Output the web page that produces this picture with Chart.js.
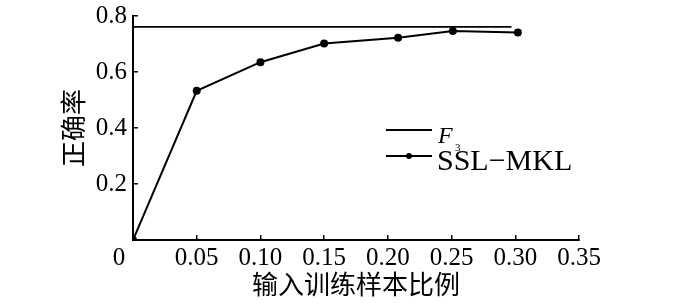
<!DOCTYPE html>
<html>
<head>
<meta charset="utf-8">
<script src="https://cdn.jsdelivr.net/npm/chart.js@4.4.0/dist/chart.umd.min.js"></script>
<style>
  body { margin: 0; background: #fff; }
</style>
</head>
<body>
<canvas id="myChart" width="700" height="303"></canvas>
<script>
// data
const sampleRatio = [0, 0.05, 0.10, 0.15, 0.208, 0.251, 0.302];
const sslMkl = [0, 0.533, 0.635, 0.702, 0.722, 0.746, 0.741];
const f3Ratio = [0, 0.297];
const f3Acc = [0.761, 0.761];
const yTicks = [0.2, 0.4, 0.6, 0.8];
const xTitle = '输入训练样本比例';
const yTitle = '正确率';

const serif = "'Liberation Serif', 'Noto Sans CJK SC', serif";
Chart.defaults.color = '#000';
Chart.defaults.font.family = serif;

// legend drawn inside the plot, line + dot style
const innerLegend = {
  id: 'innerLegend',
  afterDatasetsDraw(chart) {
    const ctx = chart.ctx;
    ctx.save();
    ctx.strokeStyle = '#000';
    ctx.fillStyle = '#000';
    ctx.lineWidth = 2;
    // F3
    ctx.beginPath();
    ctx.moveTo(386, 130); ctx.lineTo(432, 130);
    ctx.stroke();
    ctx.textBaseline = 'alphabetic';
    ctx.font = "italic 24px " + serif;
    ctx.fillText('F', 438, 143);
    ctx.font = "11px " + serif;
    ctx.fillText('3', 455, 151);
    // SSL-MKL
    ctx.beginPath();
    ctx.moveTo(386, 156); ctx.lineTo(432, 156);
    ctx.stroke();
    ctx.beginPath();
    ctx.arc(409, 156, 3, 0, Math.PI * 2);
    ctx.fill();
    ctx.font = "30px " + serif;
    ctx.fillText(chart.data.datasets[1].label, 437, 170);
    // shared origin label
    const xs = chart.scales.x, ys = chart.scales.y;
    ctx.font = "25px " + serif;
    ctx.textAlign = 'center';
    ctx.textBaseline = 'middle';
    ctx.fillText('0', xs.getPixelForValue(0) - 14, ys.getPixelForValue(0) + 18);
    ctx.restore();
  }
};

const ctx = document.getElementById('myChart').getContext('2d');
const myChart = new Chart(ctx, {
  type: 'line',
  data: {
    datasets: [{
      label: 'F3',
      data: f3Ratio.map((x, i) => ({ x: x, y: f3Acc[i] })),
      borderColor: '#000',
      borderWidth: 1.6,
      pointRadius: 0,
      fill: false
    }, {
      label: 'SSL−MKL',
      data: sampleRatio.map((x, i) => ({ x: x, y: sslMkl[i] })),
      borderColor: '#000',
      backgroundColor: '#000',
      borderWidth: 2,
      pointRadius: 3,
      pointBackgroundColor: '#000',
      tension: 0,
      fill: false
    }]
  },
  options: {
    responsive: false,
    animation: false,
    layout: { padding: { left: 0, right: 121, top: 16, bottom: 0 } },
    plugins: {
      legend: { display: false },
      tooltip: { enabled: false }
    },
    scales: {
      x: {
        type: 'linear',
        min: 0,
        max: 0.35,
        ticks: {
          stepSize: 0.05,
          font: { size: 25 },
          padding: 8,
          maxRotation: 0,
          callback: (v) => (v === 0 ? '' : v.toFixed(2))
        },
        grid: { drawOnChartArea: false, tickLength: -5, color: '#000', lineWidth: 1.5 },
        border: { display: true, color: '#000', width: 2 },
        title: { display: true, text: xTitle, font: { size: 26 }, padding: 0 },
        afterFit: (s) => { s.height = 63; }
      },
      y: {
        min: 0,
        max: 0.8,
        afterBuildTicks: (s) => { s.ticks = [0].concat(yTicks).map(v => ({ value: v })); },
        ticks: {
          font: { size: 25, lineHeight: 0.2 },
          padding: 11,
          callback: (v) => (v === 0 ? '' : v.toFixed(1))
        },
        grid: { drawOnChartArea: false, tickLength: -5, color: '#000', lineWidth: 1.5 },
        border: { display: true, color: '#000', width: 2 },
        title: { display: true, text: yTitle, font: { size: 26 }, padding: { top: 61, bottom: 0 } },
        afterFit: (s) => { s.width = 133; }
      }
    }
  },
  plugins: [innerLegend]
});
</script>
</body>
</html>
